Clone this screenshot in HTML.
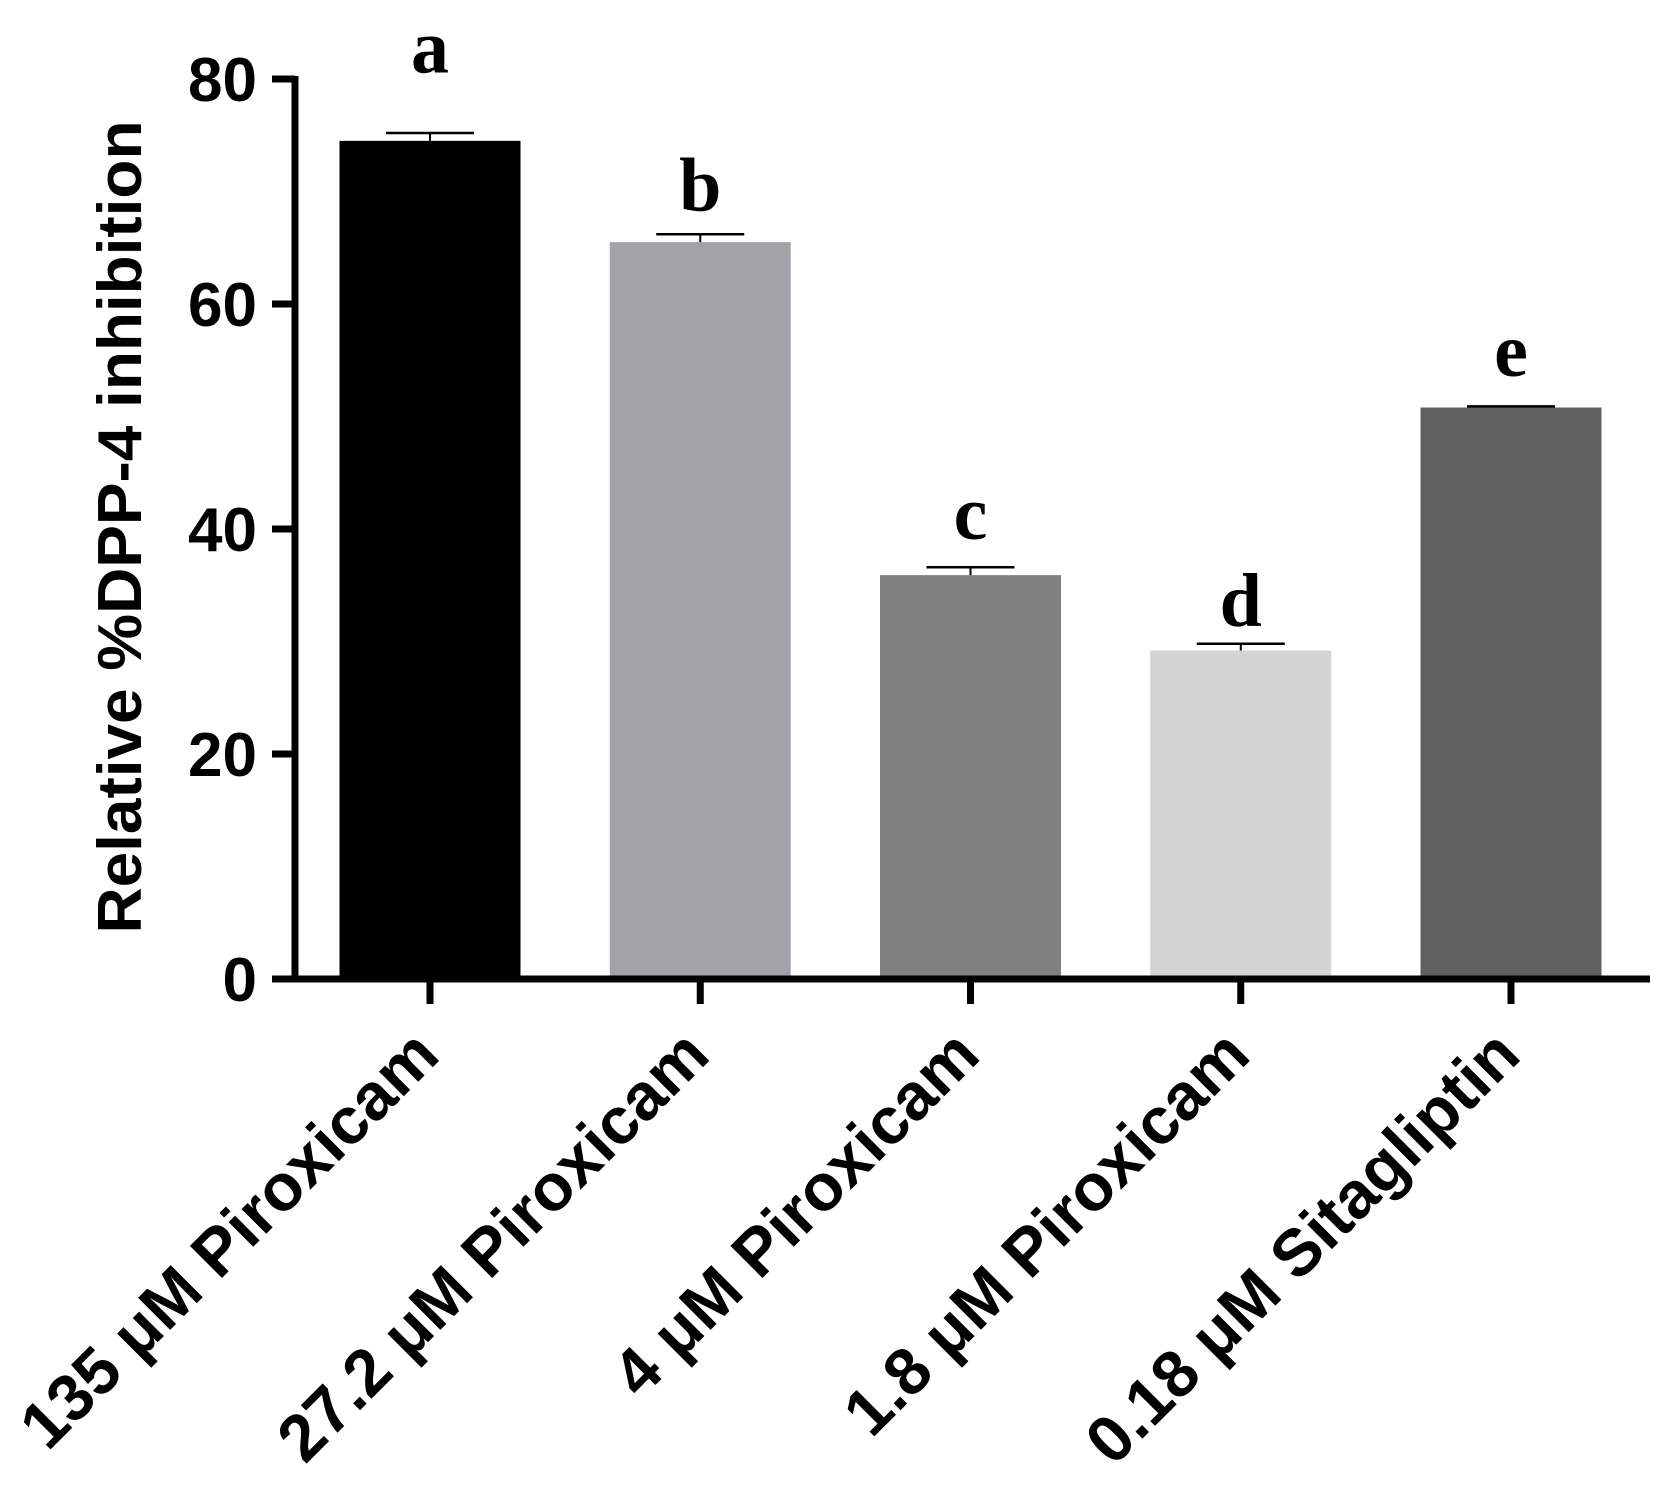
<!DOCTYPE html>
<html><head><meta charset="utf-8"><style>html,body{margin:0;padding:0;background:#fff}svg{display:block}</style></head>
<body>
<svg id="chart" width="1670" height="1487" viewBox="0 0 1670 1487" xmlns="http://www.w3.org/2000/svg">
<g id="bars"></g>
<g id="axes"></g>
<text transform="translate(141,527) rotate(-90)" text-anchor="middle" font-family="Liberation Sans, sans-serif" font-weight="bold" font-size="62" textLength="813" lengthAdjust="spacingAndGlyphs">Relative %DPP-4 inhibition</text>
</svg>
<script>
const categories = ["135 \u03bcM Piroxicam","27.2 \u03bcM Piroxicam","4 \u03bcM Piroxicam","1.8 \u03bcM Piroxicam","0.18 \u03bcM Sitagliptin"];
const values = [74.5, 65.5, 35.9, 29.2, 50.8];
const errors = [0.7, 0.7, 0.7, 0.6, 0.1];
const letters = ["a","b","c","d","e"];
const letterLevels = [80.6, 68.3, 39.1, 31.4, 53.6];
const colors = ["#000000","#a3a2a7","#808080","#d4d4d4","#606060"];
const yTicks = [0, 20, 40, 60, 80];

const NS = "http://www.w3.org/2000/svg";
const y0 = 979, pxPerUnit = 11.25;
const yScale = v => y0 - v * pxPerUnit;
const x0 = 430, step = 270.25, barW = 181;
const xScale = i => x0 + i * step;
const bars = document.getElementById('bars');
const axes = document.getElementById('axes');
function mk(tag, attrs, parent) {
  const e = document.createElementNS(NS, tag);
  for (const k in attrs) e.setAttribute(k, attrs[k]);
  parent.appendChild(e);
  return e;
}
categories.forEach((c, i) => {
  const cx = xScale(i);
  const top = yScale(values[i]);
  const r = mk('rect', {x: cx - barW/2, y: top, width: barW, height: y0 - top, fill: colors[i]}, bars);
  
  
  const et = yScale(values[i] + errors[i]);
  const ev = mk('line', {x1: cx, x2: cx, y1: top, y2: et, stroke: '#000', 'stroke-width': 2}, bars);
  
  
  const ec = mk('line', {x1: cx - 44, x2: cx + 44, y1: et, y2: et, stroke: '#000', 'stroke-width': 2.5}, bars);
  
  
  const lt = mk('text', {x: cx, y: yScale(letterLevels[i]), 'text-anchor': 'middle', 'font-family': 'Liberation Serif, serif', 'font-weight': 'bold', 'font-size': 76}, bars);
  lt.textContent = letters[i];
  
  
  const tk = mk('line', {x1: cx, x2: cx, y1: y0, y2: 1004, stroke: '#000', 'stroke-width': 7}, axes);
  
  
  const bx = cx + 12, by = 1058;
  const xl = mk('text', {transform: 'translate(' + bx + ',' + by + ') rotate(-45)', 'text-anchor': 'end', 'font-family': 'Liberation Sans, sans-serif', 'font-weight': 'bold', 'font-size': 66}, axes);
  xl.textContent = c;
  
  
});
const ya = mk('line', {x1: 295, x2: 295, y1: yScale(80) - 3, y2: y0 + 3, stroke: '#000', 'stroke-width': 7}, axes);


const xa = mk('line', {x1: 272, x2: 1650, y1: y0, y2: y0, stroke: '#000', 'stroke-width': 7}, axes);


yTicks.forEach(t => {
  const yy = yScale(t);
  const l = mk('line', {x1: 272, x2: 295, y1: yy, y2: yy, stroke: '#000', 'stroke-width': 7}, axes);
  
  
  const tx = mk('text', {x: 257, y: yy + 22, 'text-anchor': 'end', 'font-family': 'Liberation Sans, sans-serif', 'font-weight': 'bold', 'font-size': 62}, axes);
  tx.textContent = t;
  
  
});
</script>
</body></html>
